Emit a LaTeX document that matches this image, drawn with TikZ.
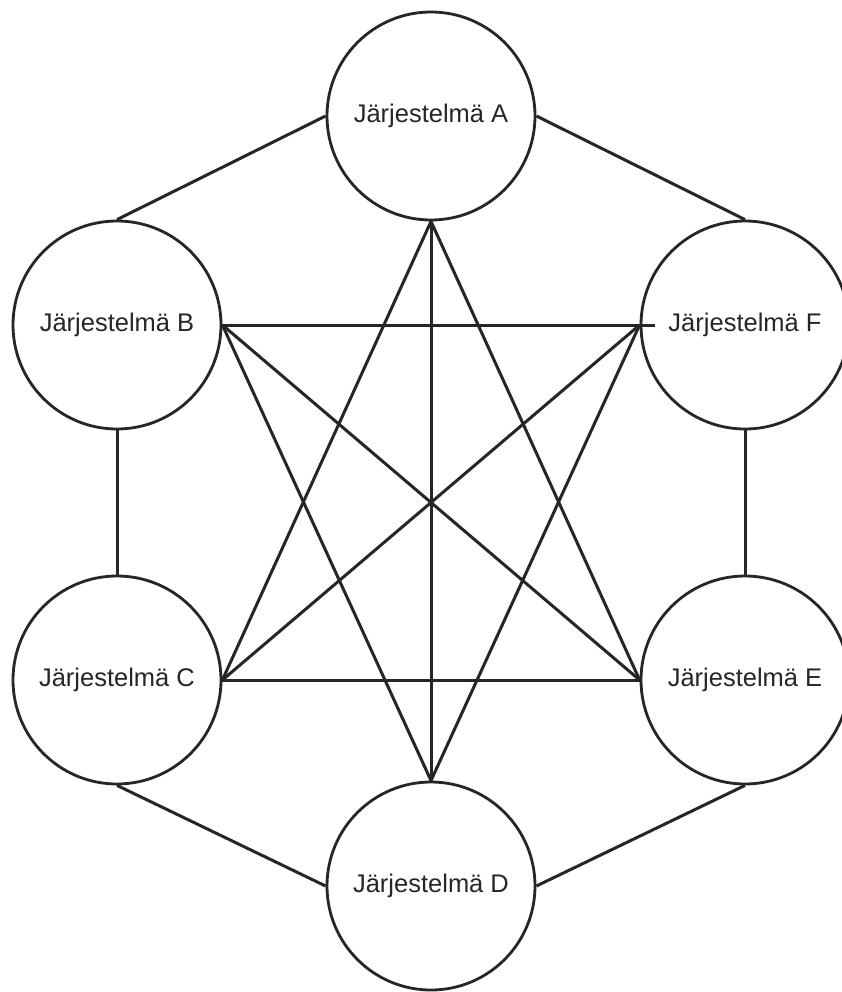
\documentclass[tikz,border=0pt]{standalone}
\usepackage{fontspec}
\setmainfont{Liberation Sans}
\begin{document}
\begin{tikzpicture}[x=1pt,y=-1pt,
  sysnode/.style={circle,draw=black!85,line width=2.8pt,minimum size=208pt,inner sep=0pt,fill=white,
    font=\fontsize{25.5}{30}\selectfont,text=black!85},
  link/.style={draw=black!85,line width=3pt}]
\useasboundingbox (0,0) rectangle (842,992);
\fill[white] (0,0) rectangle (842,992);
\node[sysnode] (A) at (431,116) {Järjestelmä A};
\node[sysnode] (B) at (117,325) {Järjestelmä B};
\node[sysnode] (C) at (117,680) {Järjestelmä C};
\node[sysnode] (D) at (431,886) {Järjestelmä D};
\node[sysnode] (E) at (745,680) {Järjestelmä E};
\node[sysnode] (F) at (745,325) {Järjestelmä F};
\coordinate (Fin) at ([xshift=15pt]F.west);
% outer ring
\draw[link] (A.west) -- (B.north);
\draw[link] (A.east) -- (F.north);
\draw[link] (B.south) -- (C.north);
\draw[link] (F.south) -- (E.north);
\draw[link] (C.south) -- (D.west);
\draw[link] (E.south) -- (D.east);
% inner lines
\draw[link] (A.south) -- (C.east);
\draw[link] (A.south) -- (D.north);
\draw[link] (A.south) -- (E.west);
\draw[link] (B.east) -- (Fin);
\draw[link] (B.east) -- (E.west);
\draw[link] (B.east) -- (D.north);
\draw[link] (C.east) -- (F.west);
\draw[link] (C.east) -- (E.west);
\draw[link] (F.west) -- (D.north);
\end{tikzpicture}
\end{document}
